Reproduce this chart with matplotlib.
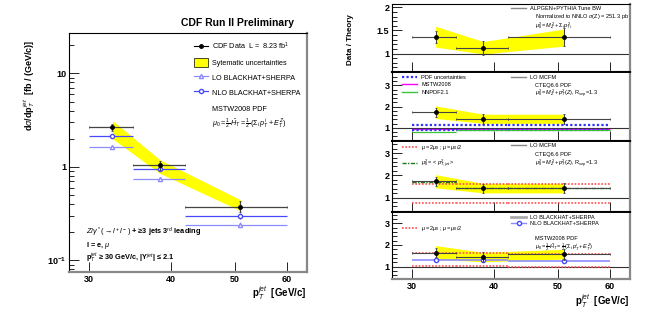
import matplotlib
matplotlib.use('Agg')
import matplotlib.pyplot as plt
import numpy as np
from matplotlib.lines import Line2D
from matplotlib.patches import Patch
from matplotlib.ticker import FixedLocator, FixedFormatter, NullFormatter, MultipleLocator, NullLocator

plt.rcParams['font.family'] = ['Liberation Sans', 'DejaVu Sans']
plt.rcParams['mathtext.fontset'] = 'custom'
plt.rcParams['mathtext.rm'] = 'Liberation Sans'
plt.rcParams['mathtext.it'] = 'Liberation Sans:italic'
plt.rcParams['mathtext.bf'] = 'Liberation Sans:bold'

# binning (3rd leading jet pT)
edges = [30, 35, 42, 60]
centers = [32.6, 38.5, 51.0]

# left: cross section [fb/(GeV/c)]
data_xs = [2.65, 1.05, 0.37]
data_err_lo = [0.23, 0.13, 0.04]
data_err_hi = [0.20, 0.12, 0.06]
syst_lo = [2.0, 0.85, 0.34]
syst_hi = [3.14, 1.19, 0.445]
nlo_xs = [2.12, 0.96, 0.30]
nlo_err = [0.07, 0.04, 0.02]
lo_xs = [1.63, 0.74, 0.24]
lo_err = [0.06, 0.04, 0.015]

# right: data / theory
r_alpgen = [1.35, 1.115, 1.36]
r_alpgen_err = [0.13, 0.15, 0.19]
b_alpgen_lo = [1.14, 0.99, 1.16]
b_alpgen_hi = [1.59, 1.26, 1.53]

r_mcfm = [1.73, 1.41, 1.42]
r_mcfm_err = [0.21, 0.22, 0.22]
b_mcfm_lo = [1.44, 1.21, 1.21]
b_mcfm_hi = [2.03, 1.64, 1.64]
pdf_lo = [0.89, 0.89, 0.89]
pdf_hi = [1.12, 1.12, 1.12]
mstw_r = [0.95, 0.95, 0.95]
nnpdf_r = [0.82, 0.88, 0.88]
mcfm_up = [1.60, 1.60, 1.63]
mcfm_dn = [0.74, 0.74, 0.74]
ptjet_r = [1.70, 1.43, 1.43]

r_bh = [1.65, 1.45, 1.57]
r_bh_err = [0.20, 0.22, 0.25]
b_bh_lo = [1.35, 1.22, 1.35]
b_bh_hi = [1.97, 1.66, 1.80]
nlo_bh = [1.30, 1.30, 1.28]
nlo_bh_err = [0.05, 0.05, 0.06]
bh_up = [1.62, 1.62, 1.60]
bh_dn = [1.03, 1.03, 1.00]

xlo = [c - e for c, e in zip(centers, edges[:-1])]
xhi = [e - c for c, e in zip(centers, edges[1:])]

LOC = '#8c8cff'
NLOC = '#4848ff'
RED = '#ff5050'
GRN = '#3ac43a'
FS = 4.1

fig = plt.figure(figsize=(6.46, 3.12), dpi=100)


def frame(ax):
    ax.spines['left'].set_color('black')
    ax.spines['top'].set_color('black')
    ax.spines['left'].set_linewidth(0.8)
    ax.spines['top'].set_linewidth(0.8)
    ax.spines['right'].set_color('#888888')
    ax.spines['bottom'].set_color('#888888')
    ax.spines['right'].set_linewidth(1.6)
    ax.spines['bottom'].set_linewidth(1.6)
    ax.tick_params(which='both', direction='in', top=False, right=False, labelsize=6.5, pad=2)
    ax.tick_params(which='major', length=7, width=0.6)
    ax.tick_params(which='minor', length=3.5, width=0.6)
    for lab in ax.get_xticklabels() + ax.get_yticklabels():
        lab.set_fontweight('bold')


# ---------------- left panel ----------------
ax = fig.add_axes([0.1068, 0.128, 0.368, 0.766])
ax.set_xscale('log')
ax.set_yscale('log')
ax.fill_between(centers, syst_lo, syst_hi, color='yellow', lw=0, zorder=1)
ax.errorbar(centers, lo_xs, yerr=lo_err, xerr=[xlo, xhi], fmt='^', ms=3, mfc='white',
            mec=LOC, color=LOC, elinewidth=0.9, capsize=0, zorder=3)
ax.errorbar(centers, nlo_xs, yerr=nlo_err, xerr=[xlo, xhi], fmt='o', ms=3, mfc='white',
            mec=NLOC, color=NLOC, elinewidth=0.9, capsize=0, zorder=3)
ax.errorbar(centers, data_xs, yerr=[data_err_lo, data_err_hi], xerr=[xlo, xhi], fmt='o', ms=2.5,
            color='black', ecolor='#444444', elinewidth=0.9, capsize=1, capthick=0.6, zorder=4)
ax.set_xlim(28.0, 64.3)
ax.set_ylim(0.075, 27)
ax.xaxis.set_major_locator(FixedLocator([30, 40, 50, 60]))
ax.xaxis.set_major_formatter(FixedFormatter(['30', '40', '50', '60']))
ax.xaxis.set_minor_locator(NullLocator())
ax.yaxis.set_major_locator(FixedLocator([0.1, 1, 10]))
ax.yaxis.set_major_formatter(FixedFormatter(['$\\mathbf{10^{-1}}$', '1', '10']))
ax.yaxis.set_minor_locator(FixedLocator([m * d for d in [0.01, 0.1, 1, 10] for m in range(2, 10)]))
ax.yaxis.set_minor_formatter(NullFormatter())
frame(ax)

h = [Line2D([], [], color='black', marker='o', ms=2.5, lw=0.8),
     Patch(facecolor='yellow', edgecolor='black', lw=0.5),
     Line2D([], [], color=LOC, marker='^', ms=3, mfc='white', lw=0.9),
     Line2D([], [], color=NLOC, marker='o', ms=3, mfc='white', lw=0.9)]
ax.legend(h, ['CDF Data  L =  8.23 fb$^{1}$', 'Sytematic uncertainties',
              'LO BLACKHAT+SHERPA', 'NLO BLACKHAT+SHERPA'],
          loc='upper left', bbox_to_anchor=(0.5, 0.995), frameon=False, fontsize=5.2,
          handlelength=1.9, handleheight=1.7, labelspacing=0.75, handletextpad=0.6)
ax.text(0.6, 0.682, 'MSTW2008 PDF', transform=ax.transAxes, fontsize=5.2, va='center')
ax.text(0.6, 0.619, '$\\mu_0 = \\frac{1}{2}\\,\\hat{H}_T = \\frac{1}{2}\\,(\\Sigma_i\\,p^i_T + E^Z_T)$',
        transform=ax.transAxes, fontsize=5.2, va='center')
ax.text(0.07, 0.165, '$Z/\\gamma^*(\\rightarrow l^+l^-)$ + \u22653 jets 3$^{rd}$ leading',
        transform=ax.transAxes, fontsize=5.3, fontweight='bold', va='center')
ax.text(0.07, 0.112, 'l = e, $\\mu$', transform=ax.transAxes, fontsize=5.3, fontweight='bold', va='center')
ax.text(0.07, 0.06, 'p$_T^{jet}$ \u2265 30 GeV/c, |Y$^{jet}$| \u2264 2.1', transform=ax.transAxes,
        fontsize=5.3, fontweight='bold', va='center')

fig.text(0.367, 0.926, 'CDF Run II Preliminary', fontsize=7.5, fontweight='bold', ha='center', va='center')
fig.text(0.045, 0.726, 'd$\\sigma$/dp$_T^{jet}$  [fb / (GeV/c)]', rotation=90, fontsize=6.5,
         fontweight='bold', ha='center', va='center')
fig.text(0.475, 0.062, 'p$_T^{jet}$  [GeV/c]', fontsize=7, fontweight='bold', ha='right', va='center')

# ---------------- right panels ----------------
rects = [[0.607, 0.769, 0.368, 0.218],
         [0.607, 0.548, 0.368, 0.221],
         [0.607, 0.3205, 0.368, 0.2285],
         [0.607, 0.1058, 0.368, 0.2147]]
ylims = [(0.6, 2.07), (0.38, 3.62), (0.35, 3.56), (0.43, 3.52)]
axes = []
for i, r in enumerate(rects):
    a = fig.add_axes(r)
    a.set_xscale('log')
    a.set_xlim(28.0, 64.3)
    a.set_ylim(*ylims[i])
    a.xaxis.set_major_locator(FixedLocator([30, 40, 50, 60]))
    a.xaxis.set_minor_locator(NullLocator())
    if i == 3:
        a.xaxis.set_major_formatter(FixedFormatter(['30', '40', '50', '60']))
    else:
        a.xaxis.set_major_formatter(NullFormatter())
    if i == 0:
        a.yaxis.set_major_locator(FixedLocator([1, 1.5, 2]))
        a.yaxis.set_major_formatter(FixedFormatter(['1', '1.5', '2']))
        a.yaxis.set_minor_locator(MultipleLocator(0.1))
    else:
        a.yaxis.set_major_locator(FixedLocator([1, 2, 3]))
        a.yaxis.set_major_formatter(FixedFormatter(['1', '2', '3']))
        a.yaxis.set_minor_locator(MultipleLocator(0.2))
    a.axhline(1, color='#333333', lw=0.8, zorder=2)
    frame(a)
    if i > 0:
        a.spines['top'].set_linewidth(1.4)
    axes.append(a)


def data_pts(a, vals, err):
    a.errorbar(centers, vals, yerr=err, xerr=[xlo, xhi], fmt='o', ms=2.5, color='black',
               ecolor='#444444', elinewidth=0.8, capsize=1, capthick=0.6, zorder=5)


def steps(a, vals, **kw):
    a.hlines(vals, edges[:-1], edges[1:], **kw)


def note(a, y, s):
    a.text(0.6, y, s, transform=a.transAxes, fontsize=FS, va='center')


# panel 1: ALPGEN
a = axes[0]
a.fill_between(centers, b_alpgen_lo, b_alpgen_hi, color='yellow', lw=0, zorder=1)
data_pts(a, r_alpgen, r_alpgen_err)
a.legend([Line2D([], [], color='#888888', lw=1)], ['ALPGEN+PYTHIA Tune BW'], loc='upper left',
         bbox_to_anchor=(0.48, 1.05), frameon=False, fontsize=FS, handlelength=2.6, handletextpad=0.6)
note(a, 0.81, 'Normalized to NNLO $\\sigma$(Z) = 251.3 pb')
note(a, 0.685, '$\\mu_0^2 = M_Z^2 + \\Sigma_i\\,p_{Ti}^2$')

# panel 2: LO MCFM with PDFs
a = axes[1]
a.fill_between(centers, b_mcfm_lo, b_mcfm_hi, color='yellow', lw=0, zorder=1)
steps(a, pdf_hi, colors='#3030ff', linestyles=(0, (1, 1)), lw=1.6, zorder=3)
steps(a, pdf_lo, colors='#3030ff', linestyles=(0, (1, 1)), lw=1.6, zorder=3)
steps(a, mstw_r, colors='#ff00ff', lw=0.8, zorder=2)
steps(a, nnpdf_r, colors=GRN, lw=0.9, zorder=3)
data_pts(a, r_mcfm, r_mcfm_err)
lg = a.legend([Line2D([], [], color='#3030ff', ls=(0, (1, 1)), lw=1.6),
               Line2D([], [], color='#ff00ff', lw=1),
               Line2D([], [], color=GRN, lw=1)],
              ['PDF uncertainties', 'MSTW2008', 'NNPDF2.1'], loc='upper left',
              bbox_to_anchor=(0.02, 1.035), frameon=False, fontsize=FS, handlelength=2.6,
              handletextpad=0.8, labelspacing=0.45)
a.add_artist(lg)
a.legend([Line2D([], [], color='#888888', lw=1)], ['LO MCFM'], loc='upper left',
         bbox_to_anchor=(0.48, 1.035), frameon=False, fontsize=FS, handlelength=2.6, handletextpad=0.6)
note(a, 0.8, 'CTEQ6.6 PDF')
note(a, 0.69, '$\\mu_0^2 = M_Z^2 + p_T^2(Z)$, R$_{sep}$=1.3')

# panel 3: LO MCFM scale variations
a = axes[2]
a.fill_between(centers, b_mcfm_lo, b_mcfm_hi, color='yellow', lw=0, zorder=1)
steps(a, mcfm_up, colors=RED, linestyles=(0, (1, 1)), lw=1.2, zorder=3)
steps(a, mcfm_dn, colors=RED, linestyles=(0, (1, 1)), lw=1.2, zorder=3)
steps(a, ptjet_r, colors='#1a7a1a', linestyles=(0, (3, 1, 1, 1)), lw=1.0, zorder=4)
data_pts(a, r_mcfm, r_mcfm_err)
lg = a.legend([Line2D([], [], color=RED, ls=(0, (1, 1)), lw=1.2),
               Line2D([], [], color='#1a7a1a', ls=(0, (3, 1, 1, 1)), lw=1.0)],
              ['$\\mu = 2\\mu_0$ ; $\\mu = \\mu_0/2$', '$\\mu_0^2 = <p^2_{T,jet}>$'], loc='upper left',
              bbox_to_anchor=(0.02, 1.035), frameon=False, fontsize=FS, handlelength=2.6,
              handletextpad=0.8, labelspacing=1.0)
a.add_artist(lg)
a.legend([Line2D([], [], color='#888888', lw=1)], ['LO MCFM'], loc='upper left',
         bbox_to_anchor=(0.48, 1.035), frameon=False, fontsize=FS, handlelength=2.6, handletextpad=0.6)
note(a, 0.8, 'CTEQ6.6 PDF')
note(a, 0.69, '$\\mu_0^2 = M_Z^2 + p_T^2(Z)$, R$_{sep}$=1.3')

# panel 4: BLACKHAT+SHERPA
a = axes[3]
a.fill_between(centers, b_bh_lo, b_bh_hi, color='yellow', lw=0, zorder=1)
steps(a, bh_up, colors=RED, linestyles=(0, (1, 1)), lw=1.2, zorder=3)
steps(a, bh_dn, colors=RED, linestyles=(0, (1, 1)), lw=1.2, zorder=3)
steps(a, nlo_bh, colors=LOC, lw=1.2, zorder=3)
a.errorbar(centers, nlo_bh, yerr=nlo_bh_err, fmt='o', ms=3, mfc='white', mec=NLOC,
           color=NLOC, elinewidth=0.8, capsize=0, zorder=4)
data_pts(a, r_bh, r_bh_err)
lg = a.legend([Line2D([], [], color=RED, ls=(0, (1, 1)), lw=1.2)],
              ['$\\mu = 2\\mu_0$ ; $\\mu = \\mu_0/2$'], loc='upper left',
              bbox_to_anchor=(0.02, 0.9), frameon=False, fontsize=FS, handlelength=2.6, handletextpad=0.8)
a.add_artist(lg)
a.legend([Line2D([], [], color='#aaaaaa', lw=2),
          Line2D([], [], color=LOC, lw=1, marker='o', ms=3, mfc='white', mec=NLOC)],
         ['LO BLACKHAT+SHERPA', 'NLO BLACKHAT+SHERPA'], loc='upper left',
         bbox_to_anchor=(0.48, 1.035), frameon=False, fontsize=FS, handlelength=2.6,
         handletextpad=0.6, labelspacing=0.3)
note(a, 0.6, 'MSTW2008 PDF')
note(a, 0.48, '$\\mu_0 = \\frac{1}{2}\\,\\hat{H}_T = \\frac{1}{2}\\,(\\Sigma_i\\,p^i_T + E^Z_T)$')

fig.text(0.542, 0.872, 'Data / Theory', rotation=90, fontsize=5.8, fontweight='bold', ha='center', va='center')
fig.text(0.975, 0.035, 'p$_T^{jet}$  [GeV/c]', fontsize=7, fontweight='bold', ha='right', va='center')

fig.savefig('out.png', dpi=100)
